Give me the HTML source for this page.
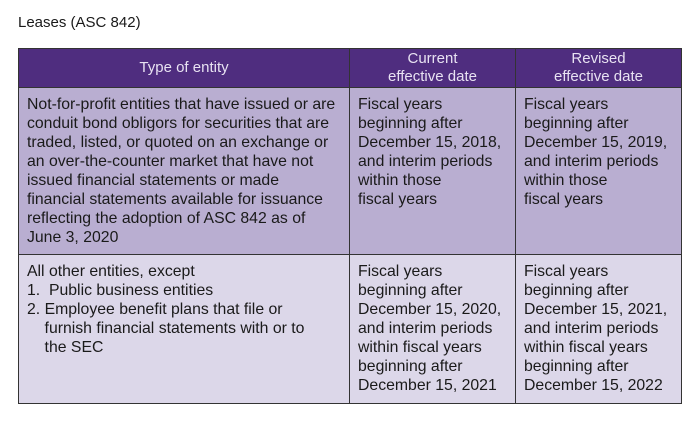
<!DOCTYPE html>
<html><head><style>
body{margin:0;width:700px;height:423px;background:#fff;font-family:"Liberation Sans",sans-serif;color:#1a1a1a;position:relative;overflow:hidden}
.t{position:absolute;left:18px;top:14px;font-size:15px}
table{position:absolute;left:18px;top:48px;border-collapse:collapse;table-layout:fixed;width:663px;font-size:15.8px;line-height:19px;white-space:nowrap}
td,th{border:1.5px solid #333;vertical-align:top;padding:7px 4px 5px 8px;text-align:left;overflow:hidden}
th{background:#4f2d7f;color:#e8e2f2;font-weight:normal;text-align:center;vertical-align:middle;padding:1px 4px;height:36px;line-height:18px;font-size:15px}
.r1 td{background:#b9aed1;height:154px}
.r2 td{background:#dcd7e9;height:136px}
</style></head><body>
<div class="t">Leases (ASC 842)</div>
<table>
<colgroup><col style="width:331px"><col style="width:166px"><col style="width:166px"></colgroup>
<tr><th>Type of entity</th><th>Current<br>effective date</th><th>Revised<br>effective date</th></tr>
<tr class="r1"><td>Not-for-profit entities that have issued or are<br>conduit bond obligors for securities that are<br>traded, listed, or quoted on an exchange or<br>an over-the-counter market that have not<br>issued financial statements or made<br>financial statements available for issuance<br>reflecting the adoption of ASC 842 as of<br>June 3, 2020</td><td>Fiscal years<br>beginning after<br>December 15, 2018,<br>and interim periods<br>within those<br>fiscal years</td><td>Fiscal years<br>beginning after<br>December 15, 2019,<br>and interim periods<br>within those<br>fiscal years</td></tr>
<tr class="r2"><td>All other entities, except<br>1.&nbsp; Public business entities<br>2. Employee benefit plans that file or<br>&nbsp;&nbsp;&nbsp; furnish financial statements with or to<br>&nbsp;&nbsp;&nbsp; the SEC</td><td>Fiscal years<br>beginning after<br>December 15, 2020,<br>and interim periods<br>within fiscal years<br>beginning after<br>December 15, 2021</td><td>Fiscal years<br>beginning after<br>December 15, 2021,<br>and interim periods<br>within fiscal years<br>beginning after<br>December 15, 2022</td></tr>
</table>
</body></html>
